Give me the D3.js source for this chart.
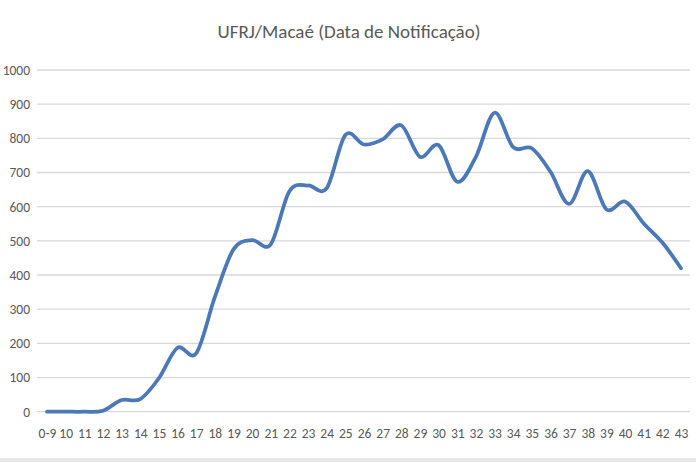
<!DOCTYPE html>
<html>
<head>
<meta charset="utf-8">
<script src="https://cdn.jsdelivr.net/npm/d3@7"></script>
<style>
  body { margin: 0; background: #fff; }
  svg text { font-family: Carlito, "Liberation Sans Narrow", "Open Sans", sans-serif; fill: #595959; }
</style>
</head>
<body>
<svg id="chart" width="696" height="462"></svg>
<script>
const weeks = ["0-9","10","11","12","13","14","15","16","17","18","19","20","21","22","23","24","25","26","27","28","29","30","31","32","33","34","35","36","37","38","39","40","41","42","43"]
const cases = [0,0,0,3,34,37,98,187,171,335,475,502,490,645,662,654,810,782,797,838,746,780,673,746,875,774,771,702,608,704,592,615,551,495,420]
const yTicks = [0,100,200,300,400,500,600,700,800,900,1000]

const svg = d3.select("#chart")
const width = 696, height = 462
const margin = {top: 70, right: 6, bottom: 50, left: 37}

svg.append("rect").attr("x", 0).attr("y", 458).attr("width", width).attr("height", 4).attr("fill", "#e8e8e8")

svg.append("text")
  .attr("x", 349).attr("y", 38)
  .attr("text-anchor", "middle")
  .style("font-size", "19px")
  .text("UFRJ/Macaé (Data de Notificação)")

const x = d3.scalePoint()
  .domain(weeks)
  .range([47, 681])

const y = d3.scaleLinear()
  .domain([0, 1000])
  .range([411.7, 70])

// gridlines
svg.append("g")
  .selectAll("line")
  .data(yTicks)
  .join("line")
    .attr("x1", margin.left).attr("x2", 690)
    .attr("y1", d => y(d)).attr("y2", d => y(d))
    .attr("stroke", "#d9d9d9").attr("stroke-width", 1.3)

const yAxis = svg.append("g")
  .attr("transform", `translate(30,0)`)
  .call(d3.axisLeft(y).tickValues(yTicks).tickFormat(d3.format("d")).tickSize(0).tickPadding(0))
yAxis.select(".domain").remove()
yAxis.selectAll("text").style("font-size", "13.5px")

const xAxis = svg.append("g")
  .attr("transform", `translate(0,${y(0)})`)
  .call(d3.axisBottom(x).tickSize(0).tickPadding(17))
xAxis.select(".domain").remove()
xAxis.selectAll("text").style("font-size", "13.5px")

const line = d3.line()
  .x((d, i) => x(weeks[i]))
  .y(d => y(d))
  .curve(d3.curveCatmullRom.alpha(0))

svg.append("path")
  .datum(cases)
  .attr("d", line)
  .attr("fill", "none")
  .attr("stroke", "#4a78b8")
  .attr("stroke-width", 3.75)
  .attr("stroke-linejoin", "round")
  .attr("stroke-linecap", "round")
</script>
</body>
</html>
